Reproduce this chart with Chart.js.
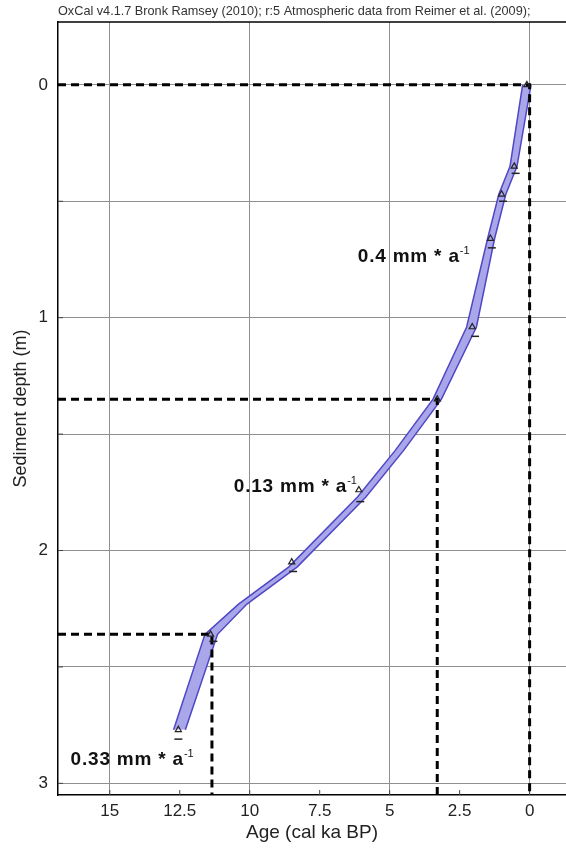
<!DOCTYPE html>
<html lang="en">
<head>
  <meta charset="UTF-8">
  <title>Age-depth model</title>
  <script src="https://cdn.jsdelivr.net/npm/chart.js"></script>
  <style>
    html, body { margin: 0; padding: 0; background: #fff; }
    #wrap { position: relative; width: 566px; height: 851px; }
  </style>
</head>
<body>
  <div id="wrap"><canvas id="ageDepth"></canvas></div>

  <script>
    // axis ticks
    const ageTicks = [15, 12.5, 10, 7.5, 5, 2.5, 0];
    const depthTicks = [0, 0.5, 1, 1.5, 2, 2.5, 3];

    // modelled age envelope (cal ka BP) per depth (m)
    const bandDepth = [0, 0.35, 0.47, 0.66, 1.04, 1.35, 1.57, 1.77, 2.07, 2.23, 2.36, 2.77];
    const bandYoung = [-0.05, 0.45, 0.85, 1.25, 1.9, 3.15, 4.5, 5.85, 8.3, 10.1, 11.15, 12.3];
    const bandOld = [0.25, 0.7, 1.1, 1.5, 2.25, 3.45, 4.8, 6.15, 8.6, 10.4, 11.6, 12.72];

    // dated samples
    const sampleDepth = [0.0, 0.35, 0.47, 0.66, 1.04, 1.35, 1.74, 2.05, 2.36, 2.77];
    const sampleAge = [0.1, 0.55, 1.0, 1.4, 2.05, 3.3, 6.1, 8.5, 11.4, 12.55];
    const errDepth = [0.38, 0.5, 0.7, 1.08, 1.79, 2.09, 2.39, 2.81];
    const errAge = [0.5, 0.95, 1.35, 1.95, 6.05, 8.45, 11.3, 12.55];

    // boundaries of sedimentation-rate sections
    const breakAge = [0, 3.3, 11.35];
    const breakDepth = [0, 1.35, 2.36];

    // rate labels
    const rateText = ["0.4 mm * a", "0.13 mm * a", "0.33 mm * a"];
    const rateAge = [6.14, 10.57, 16.4];
    const rateDepth = [0.76, 1.75, 2.92];

    const ageMin = -1.3, ageMax = 16.85;
    const depthMin = -0.27, depthMax = 3.05;
    const fontFam = "'Liberation Sans', Arial, sans-serif";

    const datasets = [];

    datasets.push({
      data: sampleDepth.map((d, i) => ({ x: sampleAge[i], y: d })),
      showLine: false,
      pointStyle: 'triangle',
      pointRadius: 3.5,
      pointBorderWidth: 1.2,
      pointBorderColor: '#222',
      pointBackgroundColor: 'rgba(0,0,0,0)'
    });
    datasets.push({
      data: errDepth.map((d, i) => ({ x: errAge[i], y: d })),
      showLine: false,
      pointStyle: 'line',
      pointRadius: 4,
      pointBorderWidth: 1.5,
      pointBorderColor: '#222'
    });

    breakAge.forEach((a, i) => {
      datasets.push({
        data: [{ x: ageMax, y: breakDepth[i] }, { x: a, y: breakDepth[i] }, { x: a, y: depthMax }],
        borderColor: '#000',
        borderWidth: 3,
        borderDash: [8, 5],
        pointRadius: 0,
        fill: false
      });
    });

    datasets.push({
      data: bandDepth.map((d, i) => ({ x: bandYoung[i], y: d })),
      borderColor: '#4f47c4',
      borderWidth: 1.5,
      pointRadius: 0,
      fill: false
    });
    datasets.push({
      data: bandDepth.map((d, i) => ({ x: bandOld[i], y: d })),
      borderColor: '#4f47c4',
      borderWidth: 1.5,
      backgroundColor: '#aaa6ea',
      pointRadius: 0,
      fill: '-1'
    });

    const extras = {
      id: 'extras',
      beforeDatasetsDraw(chart) {
        const { ctx, chartArea: a } = chart;
        ctx.save();
        ctx.strokeStyle = '#000';
        ctx.lineWidth = 1.5;
        ctx.beginPath();
        ctx.moveTo(a.left, a.top);
        ctx.lineTo(a.right, a.top);
        ctx.stroke();
        // small inward ticks
        ctx.lineWidth = 1;
        ctx.strokeStyle = '#444';
        ageTicks.forEach(v => {
          const x = chart.scales.x.getPixelForValue(v);
          ctx.beginPath();
          ctx.moveTo(x, a.bottom);
          ctx.lineTo(x, a.bottom - 5);
          ctx.stroke();
        });
        depthTicks.forEach(v => {
          const y = chart.scales.y.getPixelForValue(v);
          ctx.beginPath();
          ctx.moveTo(a.left, y);
          ctx.lineTo(a.left + 5, y);
          ctx.stroke();
        });
        ctx.restore();
      },
      afterDatasetsDraw(chart) {
        const { ctx, chartArea: a } = chart;
        ctx.save();
        ctx.fillStyle = '#333';
        ctx.font = '12.7px ' + fontFam;
        ctx.textBaseline = 'alphabetic';
        ctx.fillText('OxCal v4.1.7 Bronk Ramsey (2010); r:5 Atmospheric data from Reimer et al. (2009);', a.left, 15);

        ctx.fillStyle = '#111';
        rateText.forEach((t, i) => {
          const x = chart.scales.x.getPixelForValue(rateAge[i]);
          const y = chart.scales.y.getPixelForValue(rateDepth[i]);
          ctx.font = 'bold 19px ' + fontFam;
          ctx.letterSpacing = '0.8px';
          ctx.fillText(t, x, y);
          const w = ctx.measureText(t).width;
          ctx.letterSpacing = '0px';
          ctx.font = '11px ' + fontFam;
          ctx.fillText('-1', w + x, y - 8);
        });
        ctx.restore();
      }
    };

    new Chart(document.getElementById('ageDepth'), {
      type: 'line',
      data: { datasets },
      options: {
        responsive: true,
        maintainAspectRatio: false,
        animation: false,
        indexAxis: 'y',
        layout: { autoPadding: false, padding: { top: 22, right: 0, bottom: 0, left: 0 } },
        plugins: {
          legend: { display: false },
          tooltip: { enabled: false }
        },
        scales: {
          x: {
            type: 'linear',
            position: 'bottom',
            reverse: true,
            min: ageMin,
            max: ageMax,
            afterBuildTicks: s => { s.ticks = ageTicks.map(v => ({ value: v })); },
            afterFit: s => { s.height = 56; },
            grid: {
              color: c => (c.tick && c.tick.value % 5 === 0) ? '#8f8f8f' : 'rgba(0,0,0,0)',
              lineWidth: 1,
              drawTicks: false
            },
            border: { color: '#000', width: 1.5 },
            ticks: {
              color: '#222',
              padding: 6,
              maxRotation: 0,
              font: { family: fontFam, size: 17 },
              callback: v => String(v)
            },
            title: {
              display: true,
              text: 'Age (cal ka BP)',
              color: '#222',
              font: { family: fontFam, size: 19 },
              padding: { top: 0, bottom: 7 }
            }
          },
          y: {
            type: 'linear',
            position: 'left',
            reverse: true,
            min: depthMin,
            max: depthMax,
            afterBuildTicks: s => { s.ticks = depthTicks.map(v => ({ value: v })); },
            afterFit: s => { s.width = 58; },
            grid: {
              color: '#8f8f8f',
              lineWidth: 1,
              drawTicks: false
            },
            border: { color: '#000', width: 1.5 },
            ticks: {
              color: '#222',
              padding: 10,
              font: { family: fontFam, size: 17 },
              callback: v => Number.isInteger(v) ? String(v) : ''
            },
            title: {
              display: true,
              text: 'Sediment depth (m)',
              color: '#222',
              font: { family: fontFam, size: 18 },
              padding: { top: 10, bottom: 0 }
            }
          }
        }
      },
      plugins: [extras]
    });
  </script>
</body>
</html>
